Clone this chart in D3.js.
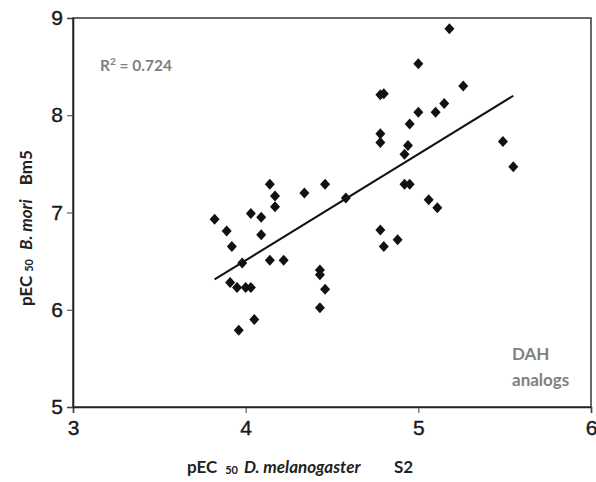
<!DOCTYPE html>
<html lang="en">
<head>
<meta charset="utf-8">
<title>pEC50 scatter</title>
<script src="https://cdn.jsdelivr.net/npm/d3@7/dist/d3.min.js"></script>
<style>
  body { margin: 0; background: white; font-family: Lato, "Open Sans", sans-serif; }
  .tick text { font-size: 21px; fill: #1a1a1a; }
  .lbl { font-weight: bold; font-size: 17px; fill: #222; }
  .note { font-weight: bold; fill: #7f7f7f; }
</style>
</head>
<body>
<svg id="chart" width="596" height="482"></svg>
<script>
// pEC50 in D. melanogaster S2 cells (x) vs B. mori Bm5 cells (y), DAH analogs
var xVals = [4.14, 4.17, 4.17, 3.82, 4.03, 4.09, 3.89, 4.09, 3.92, 3.98, 4.14, 4.22,
             3.91, 3.95, 4.00, 4.03, 4.05, 3.96, 4.34, 4.46, 4.58, 4.78, 4.80, 4.43,
             4.43, 4.46, 4.43, 5.18, 5.00, 4.78, 4.80, 5.26, 5.15, 5.10, 5.00, 4.95,
             4.78, 4.78, 4.94, 4.92, 4.92, 4.95, 5.06, 5.11, 4.88, 5.49, 5.55]
var yVals = [7.29, 7.17, 7.06, 6.93, 6.99, 6.95, 6.81, 6.77, 6.65, 6.48, 6.51, 6.51,
             6.28, 6.23, 6.23, 6.23, 5.90, 5.79, 7.20, 7.29, 7.15, 6.82, 6.65, 6.41,
             6.36, 6.21, 6.02, 8.89, 8.53, 8.21, 8.22, 8.30, 8.12, 8.03, 8.03, 7.91,
             7.81, 7.72, 7.69, 7.60, 7.29, 7.29, 7.13, 7.05, 6.72, 7.73, 7.47]
var xTicks = [3, 4, 5, 6]
var yTicks = [5, 6, 7, 8, 9]
// fitted trend line: y = slope * x + intercept
var trendSlope = 1.092
var trendIntercept = 2.14
var r2Label = "0.724"

var svg = d3.select("#chart")
var mLeft = 73, mRight = 591, mTop = 18, mBottom = 407

var x = d3.scaleLinear().domain([3, 6]).range([mLeft, mRight])
var y = d3.scaleLinear().domain([5, 9]).range([mBottom, mTop])

// plot frame
svg.append("rect")
  .attr("x", mLeft).attr("y", mTop)
  .attr("width", mRight - mLeft).attr("height", mBottom - mTop)
  .attr("fill", "none").attr("stroke", "#444").attr("stroke-width", 1.6)

svg.append("g").attr("transform", "translate(0," + mBottom + ")")
  .call(d3.axisBottom(x).tickValues(xTicks).tickSize(6).tickPadding(7).tickFormat(d3.format("d")))
svg.append("g").attr("transform", "translate(" + mLeft + ",0)")
  .call(d3.axisLeft(y).tickValues(yTicks).tickSize(6).tickPadding(4).tickFormat(d3.format("d")))
svg.selectAll(".domain").attr("stroke", "#222").attr("stroke-width", 1.6)
svg.selectAll(".tick line").attr("stroke", "#444")
svg.selectAll(".tick text").attr("font-family", null).attr("font-size", null)
  .attr("stroke", "#1a1a1a").attr("stroke-width", 0.4)

// trend line across the data range
var ext = d3.extent(xVals)
svg.append("path")
  .datum(ext)
  .attr("d", d3.line().x(function(d) { return x(d) })
                     .y(function(d) { return y(trendSlope * d + trendIntercept) }))
  .attr("stroke", "#111").attr("stroke-width", 2).attr("fill", "none")

// diamond markers
svg.append("g").selectAll("path")
  .data(xVals)
  .enter().append("path")
  .attr("d", function(d, i) {
    var cx = x(d), cy = y(yVals[i]), w = 5, h = 5.5
    return "M" + cx + "," + (cy - h) + "L" + (cx + w) + "," + cy +
           "L" + cx + "," + (cy + h) + "L" + (cx - w) + "," + cy + "Z"
  })
  .attr("fill", "#111")

// R^2 annotation
var r2 = svg.append("text").attr("class", "note").attr("x", 100).attr("y", 71).attr("font-size", 15.5)
r2.append("tspan").text("R")
r2.append("tspan").attr("font-size", 10).attr("dy", -6).text("2")
r2.append("tspan").attr("dy", 6).text(" = " + r2Label)

svg.append("text").attr("class", "note").attr("x", 512).attr("y", 360).attr("font-size", 17).text("DAH")
svg.append("text").attr("class", "note").attr("x", 512).attr("y", 386).attr("font-size", 17).text("analogs")

// x axis title
var xt = svg.append("text").attr("class", "lbl").attr("x", 187).attr("y", 473)
xt.append("tspan").text("pEC")
xt.append("tspan").attr("font-size", 11).attr("dx", 8).attr("dy", 1).text("50")
xt.append("tspan").attr("dx", 6).attr("dy", -1).attr("font-style", "italic").text("D. melanogaster")
xt.append("tspan").attr("x", 394).text("S2")

// y axis title
var yt = svg.append("text").attr("class", "lbl").attr("transform", "translate(32,306) rotate(-90)")
yt.append("tspan").text("pEC")
yt.append("tspan").attr("font-size", 11).attr("dx", 4).attr("dy", 1).text("50")
yt.append("tspan").attr("dx", 9).attr("dy", -1).attr("font-style", "italic").text("B. mori")
yt.append("tspan").attr("dx", 14).text("Bm5")
</script>
</body>
</html>
